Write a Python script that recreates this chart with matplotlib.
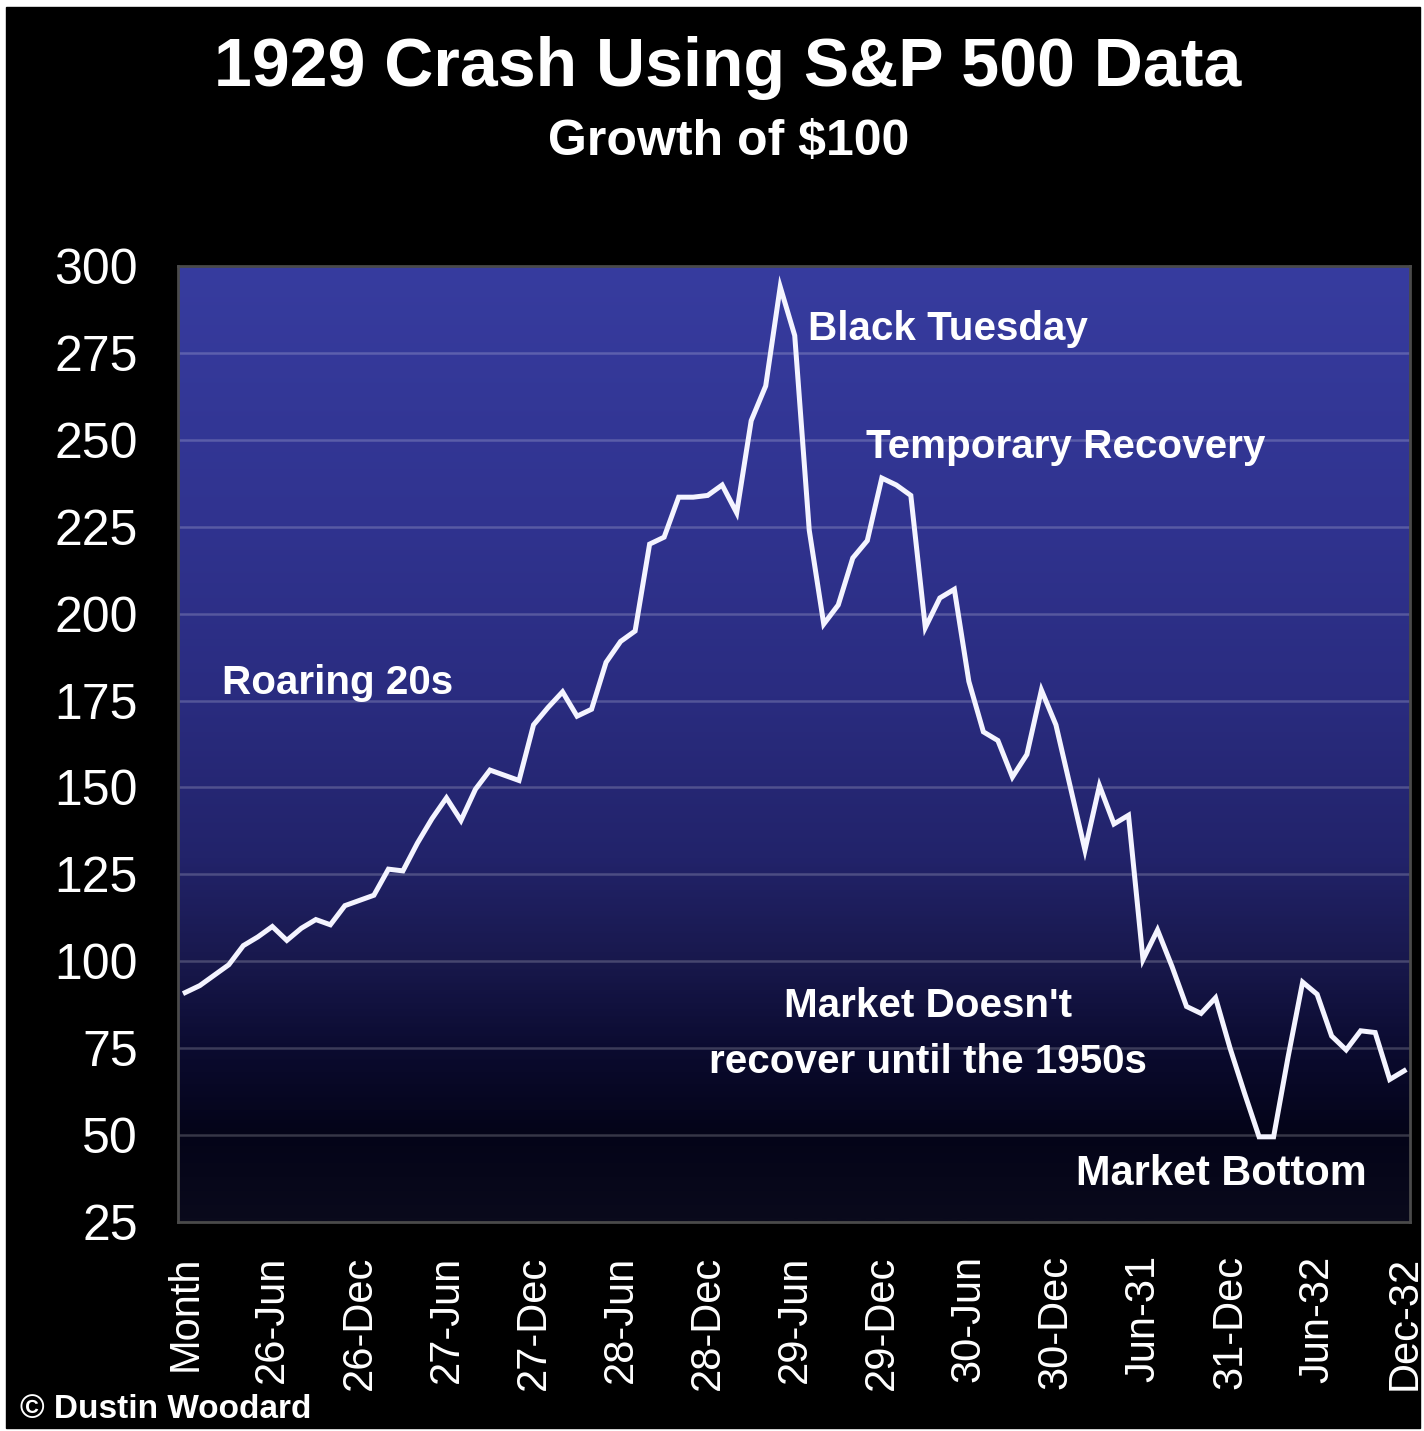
import numpy as np
import matplotlib
matplotlib.use("Agg")
import matplotlib.pyplot as plt
from matplotlib import font_manager
from matplotlib.colors import LinearSegmentedColormap
from matplotlib.patches import Rectangle

# growth of $100, monthly
values = [91, 93, 96, 99, 104.5, 107, 110, 106, 109.5, 112, 110.5, 116, 117.5, 119,
          126.5, 126, 134, 141, 147, 140.5, 149.5, 155, 153.5, 152, 168, 173,
          177.5, 170.5, 172.5, 186, 192, 195, 220, 222, 233.5, 233.5, 234, 237,
          229, 255.5, 265.5, 294, 280, 224, 197, 202.5, 216, 221, 239, 237, 234,
          196, 204.5, 207, 180.5, 166, 163.5, 153, 159.5, 178, 168, 150, 132,
          150.5, 139.5, 142, 100.5, 109, 98.5, 87, 85, 89.5, 75, 62, 49.5, 49.5,
          72.5, 94, 90.5, 78.5, 74.5, 80, 79.5, 66, 68.5]
tick_labels = ["Month", "26-Jun", "26-Dec", "27-Jun", "27-Dec", "28-Jun", "28-Dec",
               "29-Jun", "29-Dec", "30-Jun", "30-Dec", "Jun-31", "31-Dec", "Jun-32",
               "Dec-32"]
y_ticks = [25, 50, 75, 100, 125, 150, 175, 200, 225, 250, 275, 300]

names = {f.name for f in font_manager.fontManager.ttflist}
if "Liberation Sans Narrow" in names:
    narrow, nscale = "Liberation Sans Narrow", 1.0
else:
    narrow, nscale = "Liberation Sans", 0.83
plt.rcParams["font.family"] = ["Liberation Sans", "DejaVu Sans"]

fig = plt.figure(figsize=(14.24, 14.31), dpi=100, facecolor="white")
fig.patches.append(Rectangle((6 / 1424, 0.002), 1414 / 1424, 1 - 7 / 1431 - 0.002,
                             transform=fig.transFigure, color="black", zorder=-10))
ax = fig.add_axes([178 / 1424, 1 - 1222 / 1431, 1232 / 1424, 956 / 1431])

x = np.arange(len(values))
xmin, xmax = -0.5, len(values) - 0.6

# blue gradient background
cmap = LinearSegmentedColormap.from_list("bg", [
    (0.0, "#0a0a1c"), (0.09, "#040418"), (0.18, "#0b0b30"), (0.27, "#18184c"),
    (0.38, "#22236a"), (0.55, "#2a2c80"), (0.73, "#30338f"), (1.0, "#373c9f")])
grad = np.linspace(0, 1, 400).reshape(-1, 1)
ax.imshow(grad, cmap=cmap, origin="lower", aspect="auto",
          extent=(xmin, xmax, 25, 300), zorder=0)

for yv in y_ticks[1:-1]:
    ax.axhline(yv, color="white", alpha=0.2, lw=1.8, zorder=1)

ax.plot(x, values, color="#f4f4ff", lw=3.6, zorder=3, solid_joinstyle="miter")

ax.set_xlim(xmin, xmax)
ax.set_ylim(25, 300)
ax.set_facecolor("black")
for s in ax.spines.values():
    s.set_color("#4a4a4a")
    s.set_linewidth(2)

ax.set_yticks(y_ticks)
ax.set_yticklabels([str(v) for v in y_ticks])
ax.set_xticks(x[::6])
ax.set_xticklabels(tick_labels, rotation=90, va="top", ha="center")
ax.tick_params(axis="y", length=0, pad=29, labelsize=36, labelcolor="white")
ax.tick_params(axis="x", length=0, pad=24, labelsize=30, labelcolor="white")

fig.text(0.511, 1 - 68 / 1431, "1929 Crash Using S&P 500 Data", color="white",
         fontsize=49, fontweight="bold", ha="center", va="center")
fig.text(0.512, 1 - 142 / 1431, "Growth of $100", color="white",
         fontsize=36, fontweight="bold", ha="center", va="center")

ann = dict(color="white", fontweight="bold", family=narrow, zorder=4)
ax.text(2.55, 180, "Roaring 20s", fontsize=35 * nscale, ha="left", va="center", **ann)
ax.text(42.9, 282, "Black Tuesday", fontsize=35 * nscale, ha="left", va="center", **ann)
ax.text(46.9, 248, "Temporary Recovery", fontsize=35 * nscale, ha="left", va="center", **ann)
ax.text(51.2, 79, "Market Doesn't\nrecover until the 1950s", fontsize=35 * nscale,
        ha="center", va="center", linespacing=1.6, **ann)
ax.text(61.4, 38.8, "Market Bottom", fontsize=36 * nscale, ha="left", va="center", **ann)

fig.text(20 / 1424, 1 - 1410 / 1431, "© Dustin Woodard", color="white",
         fontsize=29 * nscale, fontweight="bold", family=narrow, ha="left", va="center")

fig.savefig("out.png", dpi=100, facecolor=fig.get_facecolor())
